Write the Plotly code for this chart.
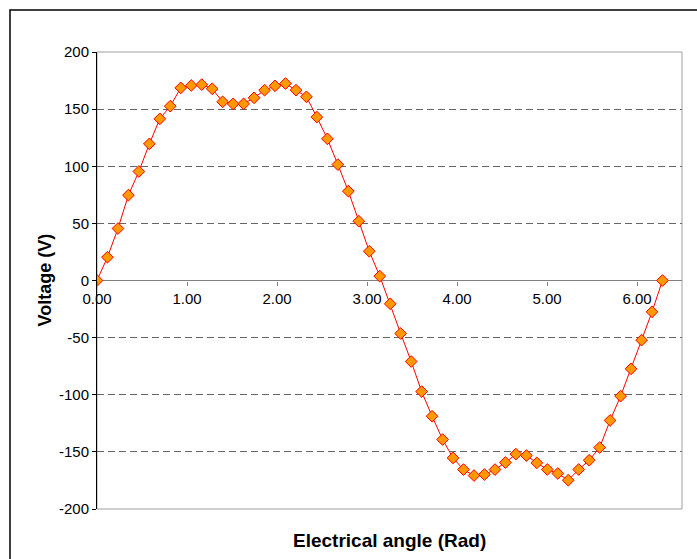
import plotly.graph_objects as go

# Electrical angle samples (rad) over one full period
angle_rad = [
    0.000, 0.116, 0.233, 0.349, 0.465, 0.582, 0.698, 0.814, 0.931, 1.047,
    1.164, 1.280, 1.396, 1.513, 1.629, 1.745, 1.862, 1.978, 2.094, 2.211,
    2.327, 2.443, 2.560, 2.676, 2.793, 2.909, 3.025, 3.142, 3.258, 3.374,
    3.491, 3.607, 3.723, 3.840, 3.956, 4.072, 4.189, 4.305, 4.422, 4.538,
    4.654, 4.771, 4.887, 5.003, 5.120, 5.236, 5.352, 5.469, 5.585, 5.701,
    5.818, 5.934, 6.051, 6.167, 6.283,
]

# Measured voltage (V) at each angle
voltage_v = [
    0.0, 20.4, 45.5, 74.7, 95.4, 119.6, 141.5, 152.6, 168.6, 170.7,
    171.5, 167.8, 156.4, 154.6, 154.6, 159.9, 166.6, 170.4, 172.4, 166.6,
    160.8, 143.0, 124.0, 101.5, 78.2, 51.9, 25.6, 3.8, -20.4, -46.4,
    -70.9, -97.2, -118.8, -139.2, -155.3, -165.5, -170.7, -169.8, -165.5, -159.3,
    -152.0, -153.2, -159.6, -165.4, -168.9, -174.8, -165.4, -157.3, -146.2, -122.5,
    -101.2, -77.3, -52.2, -27.4, 0.0,
]

x_ticks = [0, 1, 2, 3, 4, 5, 6]
x_tick_text = ["0.00", "1.00", "2.00", "3.00", "4.00", "5.00", "6.00"]
y_ticks = [-200, -150, -100, -50, 0, 50, 100, 150, 200]
y_tick_text = ["-200", "-150", "-100", "-50", "0", "50", "100", "150", "200"]

W, H = 697, 559
ML, MR, MT, MB = 97, 15, 52, 50
PW, PH = W - ML - MR, H - MT - MB

FONT = "Arial, Liberation Sans, sans-serif"

fig = go.Figure()
fig.add_trace(go.Scatter(
    x=angle_rad, y=voltage_v,
    mode="lines+markers",
    line=dict(color="#FF0000", width=1),
    marker=dict(symbol="diamond", size=9, color="#FF9900",
                line=dict(color="#FF0000", width=1)),
    showlegend=False,
    hoverinfo="skip",
))

def px_x(p):
    return (p - ML) / PW

def px_y(p):
    return (H - MB - p) / PH

fig.update_layout(
    width=W, height=H,
    margin=dict(l=ML, r=MR, t=MT, b=MB),
    paper_bgcolor="white",
    plot_bgcolor="white",
    font=dict(family=FONT, size=15, color="black"),
    xaxis=dict(
        range=[0, 6.5],
        tickvals=x_ticks,
        ticktext=x_tick_text,
        anchor="free",
        position=0.5,
        showline=False,
        showgrid=False,
        zeroline=False,
        ticks="outside",
        ticklen=4,
        tickcolor="#808080",
        tickfont=dict(size=15),
    ),
    yaxis=dict(
        range=[-200, 200],
        tickvals=y_ticks,
        ticktext=y_tick_text,
        showline=True,
        linecolor="black",
        linewidth=1,
        ticks="outside",
        ticklen=4,
        tickcolor="black",
        showgrid=True,
        gridcolor="#666666",
        gridwidth=1,
        griddash="7px,4px",
        zeroline=True,
        zerolinecolor="#808080",
        zerolinewidth=1,
        tickfont=dict(size=15),
    ),
    shapes=[
        # plot area border
        dict(type="rect", xref="paper", yref="paper", x0=0, x1=1, y0=0, y1=1,
             line=dict(color="#A0A0A0", width=1), layer="below"),
        # chart area frame
        dict(type="rect", xref="paper", yref="paper",
             x0=px_x(10), x1=px_x(W + 20), y0=px_y(H + 20), y1=px_y(10),
             line=dict(color="black", width=1.5), layer="below"),
    ],
    annotations=[
        dict(text="<b>Electrical angle (Rad)</b>", xref="paper", yref="paper",
             x=0.5, y=px_y(540), xanchor="center", yanchor="middle",
             showarrow=False, font=dict(size=19, family=FONT)),
        dict(text="<b>Voltage (V)</b>", xref="paper", yref="paper",
             x=px_x(44), y=0.5, xanchor="center", yanchor="middle",
             textangle=-90, showarrow=False, font=dict(size=18, family=FONT)),
    ],
)

fig.write_html("out.html")
